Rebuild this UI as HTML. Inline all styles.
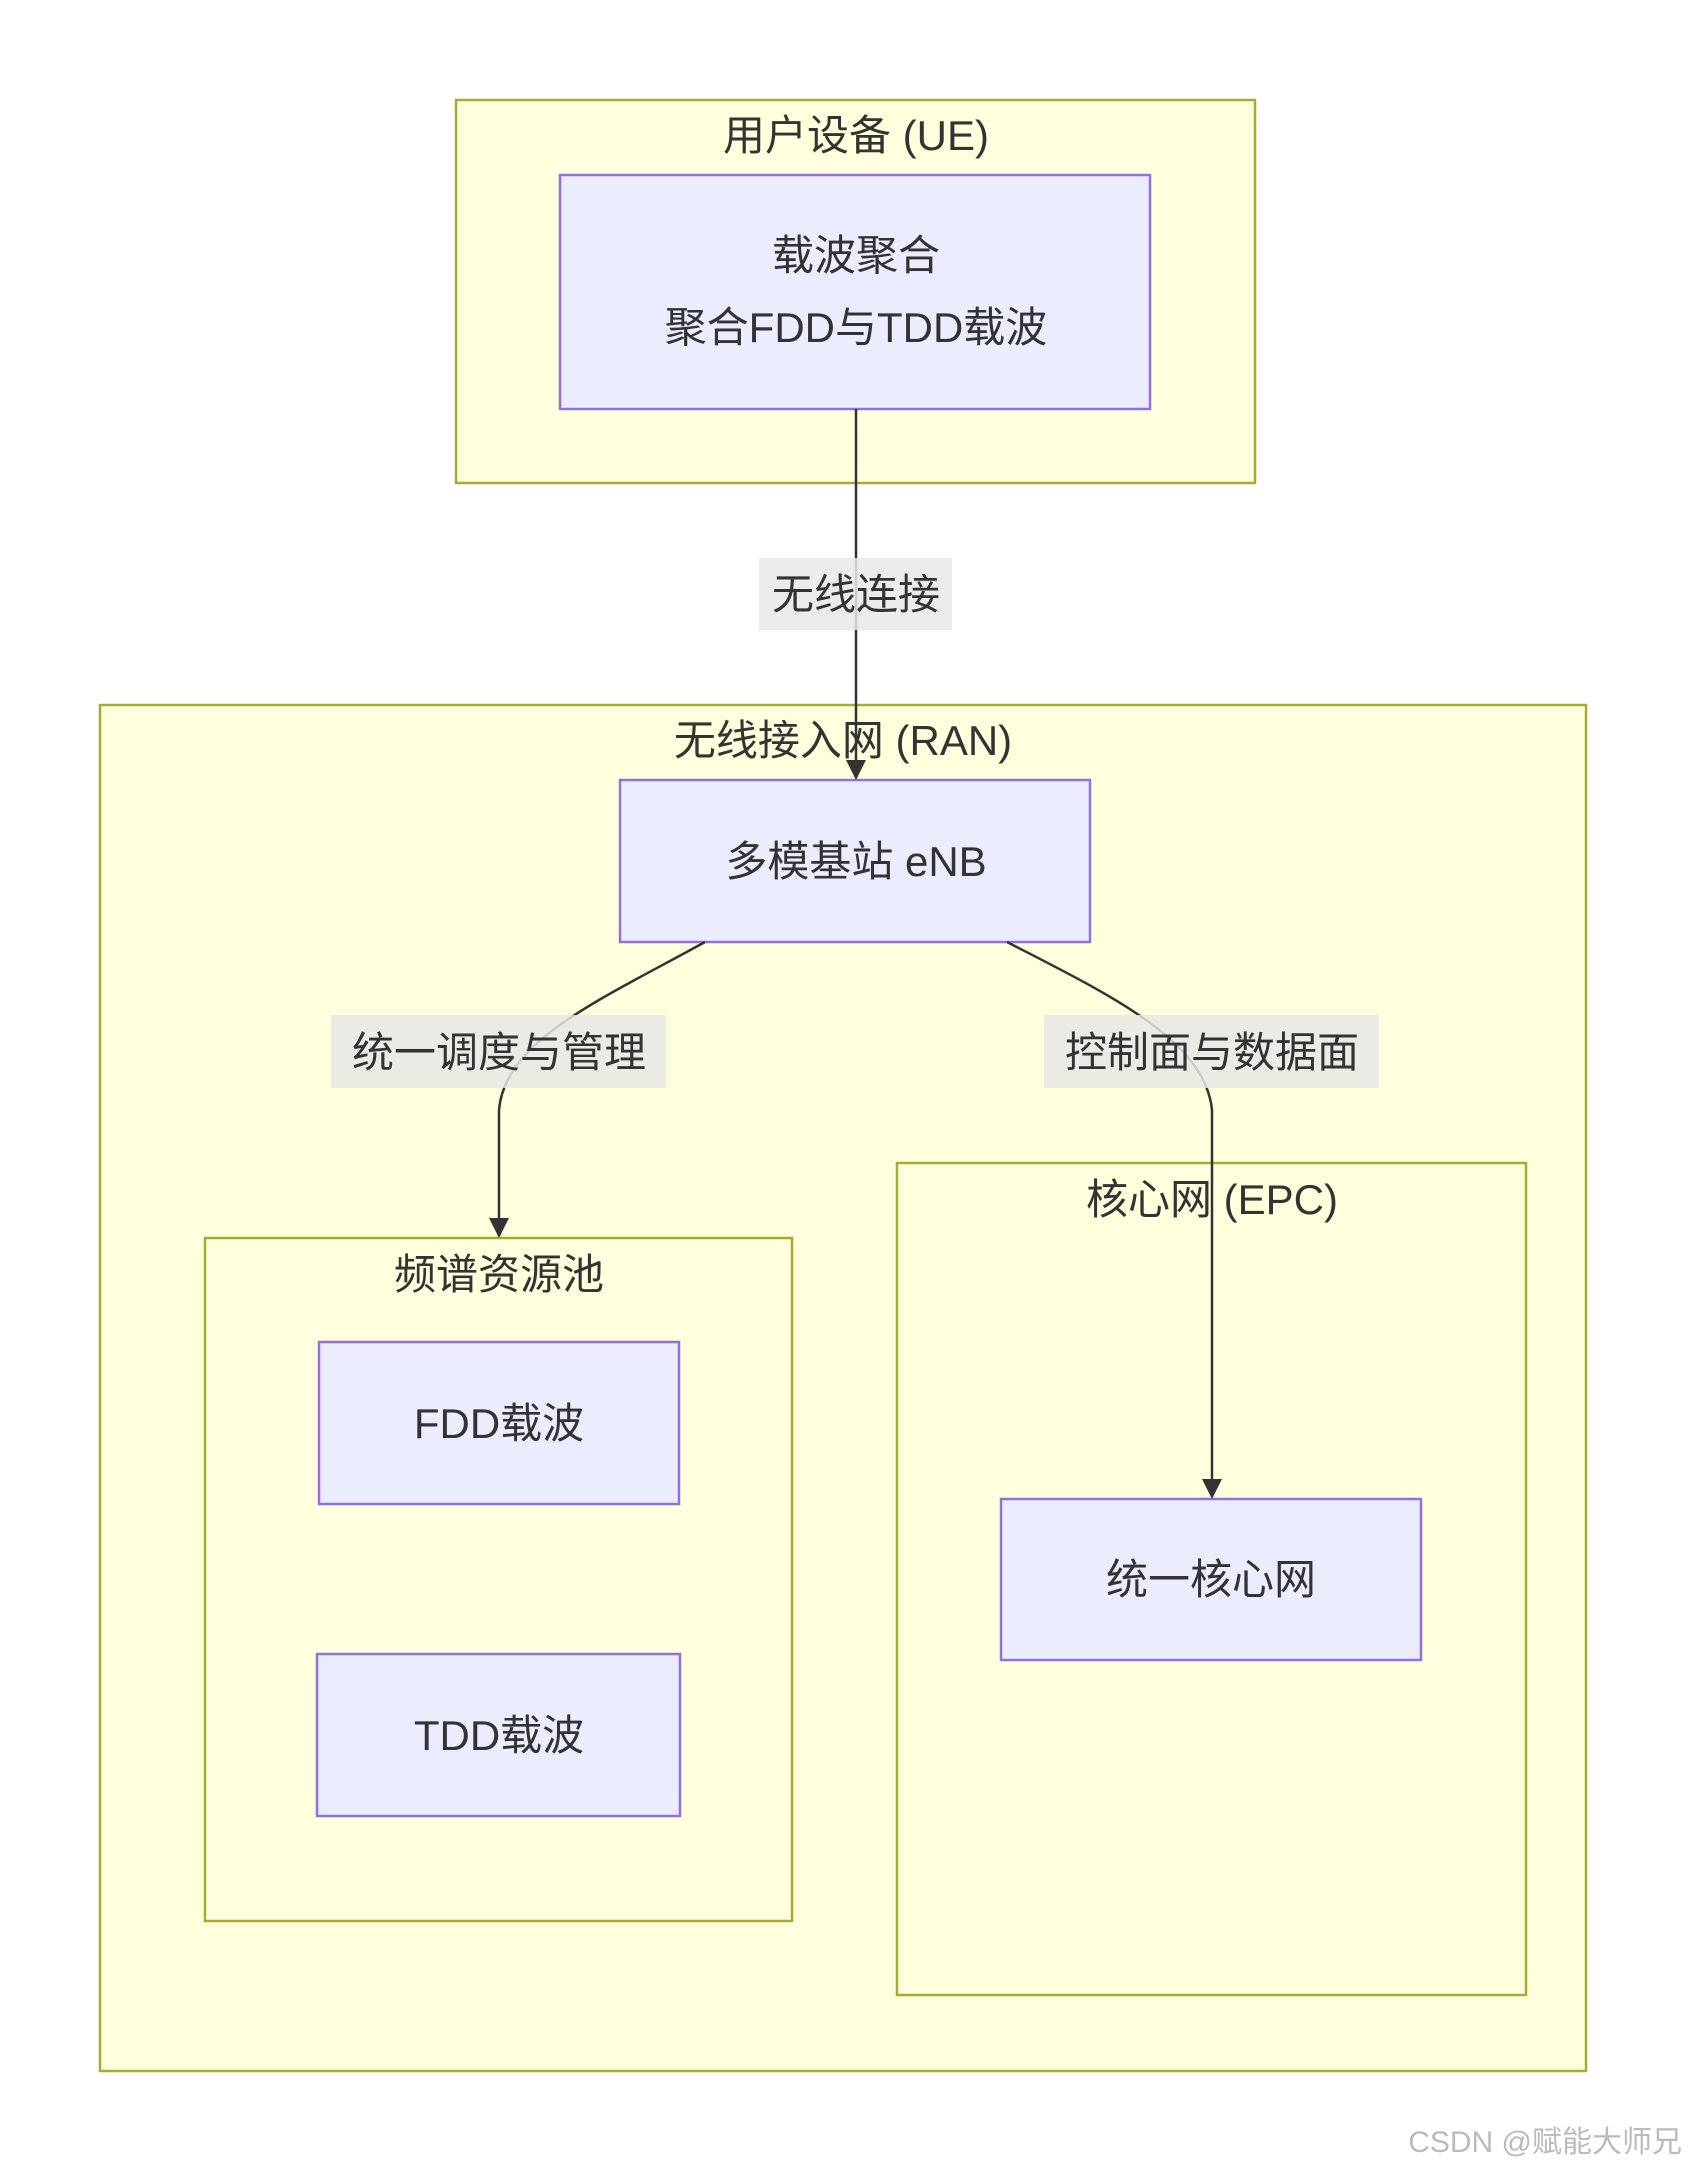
<!DOCTYPE html>
<html><head><meta charset="utf-8"><style>
body{margin:0;background:#fff;}
svg text{font-family:"Liberation Sans","Noto Sans CJK SC",sans-serif;fill:#333;}
</style></head><body>
<svg width="1689" height="2175" viewBox="0 0 1689 2175" xmlns="http://www.w3.org/2000/svg">
<defs><marker id="a" viewBox="0 0 10 10" refX="9" refY="5" markerWidth="8" markerHeight="8" orient="auto"><path d="M0,0L10,5L0,10z" fill="#333"/></marker></defs>
<g fill="#ffffde" stroke="#aaaa33" stroke-width="2.5">
<rect x="456" y="100" width="799" height="383"/>
<rect x="100" y="705" width="1486" height="1366"/>
<rect x="205" y="1238" width="587" height="683"/>
<rect x="897" y="1163" width="629" height="832"/>
</g>
<g fill="#ececff" stroke="#9370db" stroke-width="2.5">
<rect x="560" y="175" width="590" height="234"/>
<rect x="620" y="780" width="470" height="162"/>
<rect x="319" y="1342" width="360" height="162"/>
<rect x="317" y="1654" width="363" height="162"/>
<rect x="1001" y="1499" width="420" height="161"/>
</g>
<g stroke="#333" stroke-width="2.5" fill="none">
<path d="M856,409 L856,778" marker-end="url(#a)"/>
<path d="M705,942 C600,1000 505,1040 499,1110 L499,1236" marker-end="url(#a)"/>
<path d="M1007,942 C1110,995 1205,1040 1212,1110 L1212,1497" marker-end="url(#a)"/>
</g>
<g fill="#e8e8e8" opacity="0.85">
<rect x="759" y="558" width="193" height="72"/>
<rect x="331" y="1015" width="335" height="73"/>
<rect x="1044" y="1015" width="335" height="73"/>
</g>
<g font-size="42" text-anchor="middle">
<text x="856" y="150">用户设备 (UE)</text>
<text x="856" y="270">载波聚合</text>
<text x="856" y="342">聚合FDD与TDD载波</text>
<text x="856" y="609">无线连接</text>
<text x="843" y="755">无线接入网 (RAN)</text>
<text x="856" y="876">多模基站 eNB</text>
<text x="499" y="1067">统一调度与管理</text>
<text x="1212" y="1067">控制面与数据面</text>
<text x="1212" y="1214">核心网 (EPC)</text>
<text x="499" y="1289">频谱资源池</text>
<text x="499" y="1438">FDD载波</text>
<text x="499" y="1750">TDD载波</text>
<text x="1211" y="1594">统一核心网</text>
</g>
<text x="1682" y="2152" font-size="30" text-anchor="end" style="fill:#bbb">CSDN @赋能大师兄</text>
</svg>
</body></html>
